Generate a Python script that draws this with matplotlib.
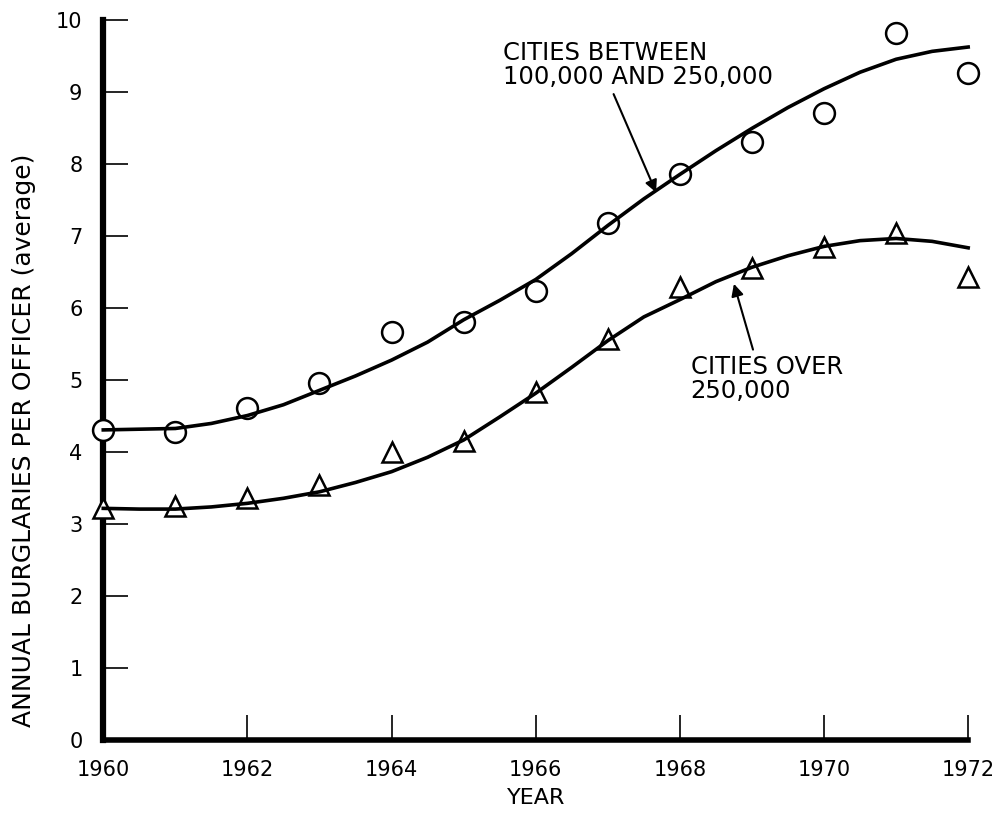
import numpy as np
import matplotlib.pyplot as plt

# datos
anios = [1960, 1961, 1962, 1963, 1964, 1965, 1966, 1967, 1968, 1969, 1970, 1971, 1972]
ciudades_medianas = [4.31, 4.28, 4.61, 4.96, 5.67, 5.81, 6.24, 7.18, 7.86, 8.31, 8.71, 9.82, 9.27]
ciudades_grandes = [3.22, 3.25, 3.36, 3.54, 4.01, 4.15, 4.83, 5.58, 6.30, 6.56, 6.85, 7.04, 6.43]

# curvas ajustadas (leidas cada medio anio)
anios_curva = [1960, 1960.5, 1961, 1961.5, 1962, 1962.5, 1963, 1963.5, 1964, 1964.5,
               1965, 1965.5, 1966, 1966.5, 1967, 1967.5, 1968, 1968.5, 1969, 1969.5,
               1970, 1970.5, 1971, 1971.5, 1972]
curva_medianas = [4.31, 4.32, 4.33, 4.40, 4.51, 4.66, 4.86, 5.06, 5.28, 5.53,
                  5.84, 6.11, 6.40, 6.76, 7.15, 7.52, 7.86, 8.19, 8.50, 8.79,
                  9.05, 9.28, 9.46, 9.57, 9.63]
curva_grandes = [3.22, 3.21, 3.21, 3.24, 3.29, 3.36, 3.45, 3.58, 3.73, 3.93,
                 4.17, 4.49, 4.82, 5.18, 5.55, 5.88, 6.12, 6.37, 6.57, 6.73,
                 6.86, 6.94, 6.97, 6.93, 6.84]

xticks = [1960, 1962, 1964, 1966, 1968, 1970, 1972]
yticks = list(range(0, 11))

fig = plt.figure(figsize=(9.93, 8.16), dpi=100)
ax = fig.add_axes([0.104, 0.093, 0.871, 0.882])

ax.plot(anios_curva, curva_medianas, color='black', lw=2.6, zorder=4, clip_on=False)
ax.plot(anios_curva, curva_grandes, color='black', lw=2.6, zorder=4, clip_on=False)
ax.plot(anios, ciudades_medianas, 'o', ms=15, mfc='white', mec='black', mew=1.8,
        zorder=3, clip_on=False)
ax.plot(anios, ciudades_grandes, '^', ms=14, mfc='white', mec='black', mew=1.8,
        zorder=3, clip_on=False)

ax.set_xlim(1960, 1972)
ax.set_ylim(0, 10)
ax.set_xticks(xticks)
ax.set_yticks(yticks)

for lado in ['top', 'right']:
    ax.spines[lado].set_visible(False)
ax.spines['left'].set_linewidth(4.5)
ax.spines['bottom'].set_linewidth(4)
ax.tick_params(direction='in', length=18, width=1.2, labelsize=15)
ax.tick_params(axis='y', pad=15)
ax.tick_params(axis='x', pad=14)

ax.set_xlabel('YEAR', fontsize=16, labelpad=6)
ax.set_ylabel('ANNUAL BURGLARIES PER OFFICER (average)', fontsize=18)
ax.yaxis.set_label_coords(-0.078, 0.417)

ax.annotate('CITIES BETWEEN\n100,000 AND 250,000', xy=(1967.67, 7.61),
            xytext=(1965.55, 9.05), fontsize=17.5, ha='left', va='bottom',
            linespacing=1.0,
            arrowprops=dict(arrowstyle='-|>', color='black', lw=1.5,
                            shrinkA=2, shrinkB=0, mutation_scale=18,
                            relpos=(0.4, 0.0)))
ax.annotate('CITIES OVER\n250,000', xy=(1968.75, 6.34),
            xytext=(1968.15, 5.35), fontsize=17.5, ha='left', va='top',
            linespacing=1.0,
            arrowprops=dict(arrowstyle='-|>', color='black', lw=1.5,
                            shrinkA=2, shrinkB=0, mutation_scale=18,
                            relpos=(0.42, 1.0)))

fig.savefig('out.png', dpi=100)
